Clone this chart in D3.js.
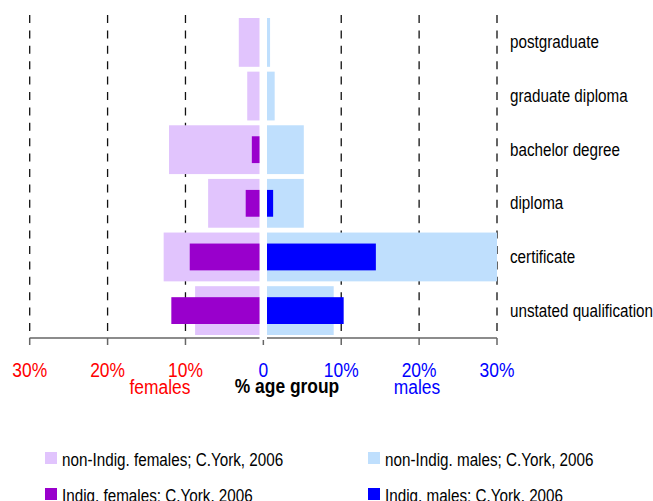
<!DOCTYPE html>
<html>
<head>
<meta charset="utf-8">
<script src="https://cdn.jsdelivr.net/npm/d3@7"></script>
<style>
body { margin: 0; background: #fff; }
text { font-family: "Liberation Sans", Arial, sans-serif; }
</style>
</head>
<body>
<div id="container"></div>
<script>
var categories = ["postgraduate", "graduate diploma", "bachelor degree", "diploma", "certificate", "unstated qualification"];

// % of age group
var nonIndigFemales = [2.7, 1.6, 11.8, 6.7, 12.5, 8.4];
var indigFemales = [0, 0, 1.0, 1.8, 9.1, 11.5];
var nonIndigMales = [0.4, 1.0, 4.8, 4.8, 33, 8.7];
var indigMales = [0, 0, 0, 0.8, 14.2, 10.0];

var tickValues = [-30, -20, -10, 0, 10, 20, 30];
var tickLabels = ["30%", "20%", "10%", "0", "10%", "20%", "30%"];

var legendLabels = ["non-Indig. females; C.York, 2006", "non-Indig. males; C.York, 2006",
    "Indig. females; C.York, 2006", "Indig. males; C.York, 2006"];

var colors = {
    nonIndigF: "#e1c4fd",
    indigF: "#9900cc",
    nonIndigM: "#bfdffd",
    indigM: "#0000ff"
}

var width = 653, height = 501;
var plotTop = 15, plotBottom = 338;

// text in the reference is a slightly condensed helvetica
function squeeze(sel, k) {
    sel.each(function() {
        var w = this.getComputedTextLength();
        d3.select(this).attr("textLength", w * k).attr("lengthAdjust", "spacingAndGlyphs");
    })
}

var svg = d3.select("#container").append("svg")
    .attr("width", width)
    .attr("height", height)

var y = d3.scaleBand()
    .domain(categories)
    .range([plotTop, plotBottom])
    .paddingInner(0.09)
    .paddingOuter(0.056)

var xF = d3.scaleLinear().domain([0, 30]).range([259.5, 29.5]).clamp(true)
var xM = d3.scaleLinear().domain([0, 30]).range([267, 497]).clamp(true)
var xG = d3.scaleLinear().domain([-30, 30]).range([29.7, 497])

// dashed gridlines
svg.append("g").selectAll("line")
    .data(tickValues.filter(function(d) { return d != 0 }))
    .enter().append("line")
    .attr("x1", function(d) { return xG(d) })
    .attr("x2", function(d) { return xG(d) })
    .attr("y1", plotTop)
    .attr("y2", plotBottom)
    .attr("stroke", "#111")
    .attr("stroke-width", 1.3)
    .attr("stroke-dasharray", "8,7.4")

function rows(data) {
    return data.map(function(v, i) { return { cat: categories[i], v: v } })
}

var outerH = y.bandwidth();
var innerH = y.step() * 0.5;

function femaleBars(data, color, h) {
    svg.append("g").selectAll("rect")
        .data(rows(data).filter(function(d) { return d.v > 0 }))
        .enter().append("rect")
        .attr("x", function(d) { return xF(d.v) })
        .attr("width", function(d) { return xF(0) - xF(d.v) })
        .attr("y", function(d) { return y(d.cat) + (outerH - h) / 2 })
        .attr("height", h)
        .attr("fill", color)
}

function maleBars(data, color, h) {
    svg.append("g").selectAll("rect")
        .data(rows(data).filter(function(d) { return d.v > 0 }))
        .enter().append("rect")
        .attr("x", xM(0))
        .attr("width", function(d) { return xM(d.v) - xM(0) })
        .attr("y", function(d) { return y(d.cat) + (outerH - h) / 2 })
        .attr("height", h)
        .attr("fill", color)
}

femaleBars(nonIndigFemales, colors.nonIndigF, outerH)
maleBars(nonIndigMales, colors.nonIndigM, outerH)
femaleBars(indigFemales, colors.indigF, innerH)
maleBars(indigMales, colors.indigM, innerH)

// bottom axis, broken at the centre gap
svg.append("line")
    .attr("x1", xF(30)).attr("x2", xF(0))
    .attr("y1", plotBottom).attr("y2", plotBottom)
    .attr("stroke", "#666").attr("stroke-width", 1.5)
svg.append("line")
    .attr("x1", xM(0)).attr("x2", xM(30))
    .attr("y1", plotBottom).attr("y2", plotBottom)
    .attr("stroke", "#666").attr("stroke-width", 1.5)

svg.append("g").selectAll("line")
    .data(tickValues)
    .enter().append("line")
    .attr("x1", function(d) { return xG(d) })
    .attr("x2", function(d) { return xG(d) })
    .attr("y1", function(d) { return d == 0 ? plotBottom + 2 : plotBottom })
    .attr("y2", plotBottom + 7)
    .attr("stroke", "#666")
    .attr("stroke-width", 1.5)

svg.append("g").selectAll("text")
    .data(tickValues)
    .enter().append("text")
    .attr("x", function(d) { return xG(d) })
    .attr("y", 377)
    .attr("text-anchor", "middle")
    .attr("font-size", 20)
    .attr("fill", function(d) { return d < 0 ? "#ff0000" : "#0000ff" })
    .text(function(d, i) { return tickLabels[i] })
    .call(squeeze, 0.87)

svg.append("text")
    .attr("x", 160).attr("y", 394)
    .attr("text-anchor", "middle")
    .attr("font-size", 20)
    .attr("fill", "#ff0000")
    .text("females")
    .call(squeeze, 0.87)

svg.append("text")
    .attr("x", 287).attr("y", 393)
    .attr("text-anchor", "middle")
    .attr("font-size", 20)
    .attr("font-weight", "bold")
    .attr("fill", "#000")
    .text("% age group")
    .call(squeeze, 0.87)

svg.append("text")
    .attr("x", 417).attr("y", 394)
    .attr("text-anchor", "middle")
    .attr("font-size", 20)
    .attr("fill", "#0000ff")
    .text("males")
    .call(squeeze, 0.87)

// category labels on the right
svg.append("g").selectAll("text")
    .data(categories)
    .enter().append("text")
    .attr("x", 510)
    .attr("y", function(d) { return y(d) + outerH / 2 + 6 })
    .attr("font-size", 17.5)
    .attr("fill", "#000")
    .text(function(d) { return d })
    .call(squeeze, 0.87)

// legend
var legendColors = [colors.nonIndigF, colors.nonIndigM, colors.indigF, colors.indigM];
var legend = svg.append("g").selectAll("g")
    .data(legendLabels)
    .enter().append("g")
    .attr("transform", function(d, i) {
        return "translate(" + [45, 368][i % 2] + "," + [452, 488][Math.floor(i / 2)] + ")"
    })

legend.append("rect")
    .attr("width", 12)
    .attr("height", 12)
    .attr("fill", function(d, i) { return legendColors[i] })

legend.append("text")
    .attr("x", 17)
    .attr("y", 13.5)
    .attr("font-size", 17.5)
    .attr("fill", "#000")
    .text(function(d) { return d })
    .call(squeeze, 0.87)
</script>
</body>
</html>
